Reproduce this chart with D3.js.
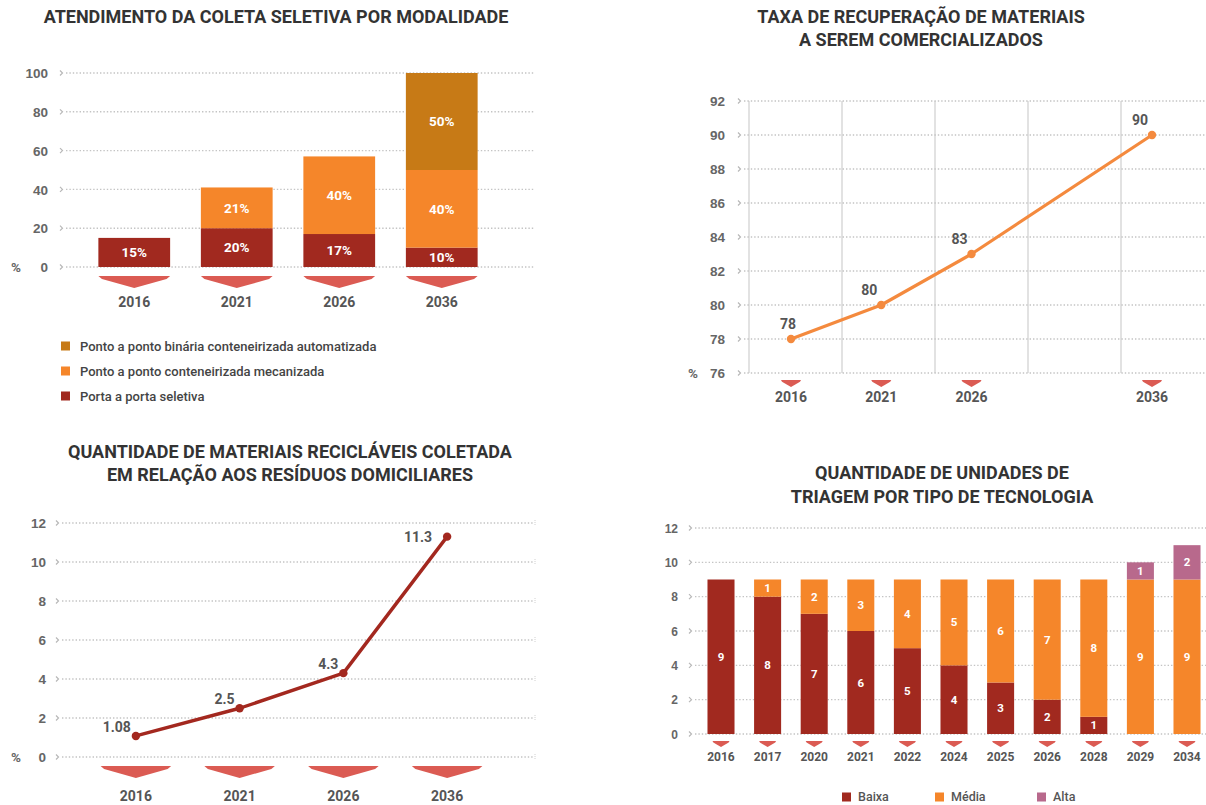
<!DOCTYPE html>
<html>
<head>
<meta charset="utf-8">
<script src="https://cdn.jsdelivr.net/npm/d3@7"></script>
<style>
  html, body { margin: 0; padding: 0; background: #fff; }
  svg { display: block; font-family: Roboto, "Noto Sans", sans-serif; }
  .title { font-weight: 700; font-size: 18px; fill: #333; text-anchor: middle; }
  .tick-label { font-weight: 700; font-size: 13.5px; fill: #666; }
  .year-label { font-weight: 700; font-size: 14px; fill: #555; text-anchor: middle; }
  .grid { stroke: #c4c4c4; stroke-width: 1.4; stroke-dasharray: 1.4 2; }
  .chev { fill: none; stroke: #b8b8b8; stroke-width: 1.2; }
</style>
</head>
<body>
<svg id="chart" width="1206" height="805"></svg>
<script>
// ---- Atendimento da coleta seletiva por modalidade ----
const modalYears = ["2016", "2021", "2026", "2036"];
const portaAPorta = [15, 20, 17, 10];
const pontoMecanizada = [0, 21, 40, 40];
const pontoAutomatizada = [0, 0, 0, 50];
const modalTicks = [0, 20, 40, 60, 80, 100];
const modalLegend = [
  "Ponto a ponto binária conteneirizada automatizada",
  "Ponto a ponto conteneirizada mecanizada",
  "Porta a porta seletiva"
];

// ---- Taxa de recuperação de materiais ----
const taxaYears = [2016, 2021, 2026, 2036];
const taxaValues = [78, 80, 83, 90];
const taxaTicks = [76, 78, 80, 82, 84, 86, 88, 90, 92];

// ---- Quantidade de materiais recicláveis coletada ----
const qtdYears = ["2016", "2021", "2026", "2036"];
const qtdValues = [1.08, 2.5, 4.3, 11.3];
const qtdTicks = [0, 2, 4, 6, 8, 10, 12];

// ---- Unidades de triagem por tipo de tecnologia ----
const triagemYears = ["2016", "2017", "2020", "2021", "2022", "2024", "2025", "2026", "2028", "2029", "2034"];
const triagemBaixa = [9, 8, 7, 6, 5, 4, 3, 2, 1, 0, 0];
const triagemMedia = [0, 1, 2, 3, 4, 5, 6, 7, 8, 9, 9];
const triagemAlta  = [0, 0, 0, 0, 0, 0, 0, 0, 0, 1, 2];
const triagemTicks = [0, 2, 4, 6, 8, 10, 12];
const triagemLegend = ["Baixa", "Média", "Alta"];

const C = {
  porta: "#a1291f",
  mecanizada: "#f5862a",
  automatizada: "#c77a16",
  alta: "#b8698c",
  arrow: "#db5b53",
  taxaLine: "#f48a3e",
  qtdLine: "#a3281f"
};

const svg = d3.select("#chart");

// dotted horizontal grid with the little chevron at its start
function drawGrid(g, y, ticks, x0, x1, labelX, fontSize) {
  g.selectAll(".grid-line").data(ticks).join("line")
    .attr("class", "grid")
    .attr("x1", x0).attr("x2", x1)
    .attr("y1", d => y(d)).attr("y2", d => y(d));
  g.selectAll(".chev-mark").data(ticks).join("path")
    .attr("class", "chev")
    .attr("d", d => `M${x0 - 6},${y(d) - 2.5}L${x0 - 3.5},${y(d)}L${x0 - 6},${y(d) + 2.5}`);
  const axis = d3.axisLeft(y).tickValues(ticks).tickSize(0).tickPadding(0);
  const ag = g.append("g").attr("transform", `translate(${labelX},0)`).call(axis);
  ag.select(".domain").remove();
  ag.selectAll("text").attr("class", "tick-label").attr("x", 0)
    .style("font-size", fontSize + "px").attr("dy", "0.35em")
    .attr("text-anchor", "end").attr("fill", null);
}

// downward chevron marker under each category
function arrowPath(cx, w, top, h) {
  const band = h * 0.25;
  return `M${cx - w / 2},${top}L${cx + w / 2},${top}L${cx + w / 2 - w * 0.05},${top + band}L${cx},${top + h}L${cx - w / 2 + w * 0.05},${top + band}Z`;
}

function titleLines(lines, cx, y0, lh) {
  const t = svg.append("text").attr("class", "title");
  lines.forEach((l, i) => t.append("tspan").attr("x", cx).attr("y", y0 + i * lh).text(l));
}

// =============== Chart 1: stacked bars ===============
(function () {
  const g = svg.append("g");
  titleLines(["ATENDIMENTO DA COLETA SELETIVA POR MODALIDADE"], 276, 23, 0);
  const y = d3.scaleLinear().domain([0, 100]).range([267, 73]);
  const x = d3.scaleBand().domain(modalYears).range([83, 493]).paddingInner(0.3).paddingOuter(0.15);
  drawGrid(g, y, modalTicks, 66, 534, 48, 13.5);
  g.append("text").attr("x", 16).attr("y", y(0)).attr("dy", "0.35em")
    .attr("class", "tick-label").attr("text-anchor", "middle").text("%");

  const rows = modalYears.map((yr, i) => ({
    year: yr, porta: portaAPorta[i], mecanizada: pontoMecanizada[i], automatizada: pontoAutomatizada[i]
  }));
  const keys = ["porta", "mecanizada", "automatizada"];
  const stack = d3.stack().keys(keys)(rows);
  stack.forEach(layer => {
    const k = layer.key;
    g.append("g").selectAll("rect").data(layer.filter(d => d[1] > d[0])).join("rect")
      .attr("x", d => x(d.data.year)).attr("width", x.bandwidth())
      .attr("y", d => y(d[1])).attr("height", d => y(d[0]) - y(d[1]))
      .attr("fill", C[k]);
    g.append("g").selectAll("text").data(layer.filter(d => d[1] > d[0])).join("text")
      .attr("x", d => x(d.data.year) + x.bandwidth() / 2)
      .attr("y", d => (y(d[0]) + y(d[1])) / 2).attr("dy", "0.35em")
      .attr("text-anchor", "middle").attr("fill", "#fff")
      .style("font-weight", 700).style("font-size", "13.5px")
      .text(d => (d[1] - d[0]) + "%");
  });
  g.selectAll(".arr").data(modalYears).join("path")
    .attr("d", d => arrowPath(x(d) + x.bandwidth() / 2, x.bandwidth(), 276, 12))
    .attr("fill", C.arrow);
  g.selectAll(".yr").data(modalYears).join("text")
    .attr("class", "year-label").attr("x", d => x(d) + x.bandwidth() / 2).attr("y", 302)
    .attr("dy", "0.35em").text(d => d);

  const legColors = [C.automatizada, C.mecanizada, C.porta];
  const lg = g.append("g");
  modalLegend.forEach((name, i) => {
    const ly = 346 + i * 25;
    lg.append("rect").attr("x", 61).attr("y", ly - 4.5).attr("width", 9).attr("height", 9).attr("fill", legColors[i]);
    lg.append("text").attr("x", 80).attr("y", ly).attr("dy", "0.35em")
      .style("font-size", "13px").style("font-weight", 500).attr("fill", "#444").text(name);
  });
})();

// =============== Chart 2: taxa de recuperação ===============
(function () {
  const g = svg.append("g");
  titleLines(["TAXA DE RECUPERAÇÃO DE MATERIAIS", "A SEREM COMERCIALIZADOS"], 921, 23, 23);
  const y = d3.scaleLinear().domain([76, 92]).range([373, 101]);
  const x = d3.scaleLinear().domain([2016, 2036]).range([791, 1152]);
  const cols = d3.scaleLinear().domain([0, 4]).range([749, 1121]);
  g.selectAll(".vline").data(d3.range(5)).join("line")
    .attr("x1", d => cols(d)).attr("x2", d => cols(d))
    .attr("y1", y(92)).attr("y2", y(76))
    .attr("stroke", "#cfcfcf").attr("stroke-width", 1.2);
  drawGrid(g, y, taxaTicks, 744, 1206, 725, 13.5);
  g.append("text").attr("x", 693).attr("y", y(76)).attr("dy", "0.35em")
    .attr("class", "tick-label").attr("text-anchor", "middle").text("%");

  const pts = taxaYears.map((yr, i) => ({ yr, v: taxaValues[i] }));
  g.append("path").datum(pts)
    .attr("d", d3.line().x(d => x(d.yr)).y(d => y(d.v)))
    .attr("fill", "none").attr("stroke", C.taxaLine).attr("stroke-width", 3.2)
    .attr("stroke-linejoin", "round");
  g.selectAll(".pt").data(pts).join("circle")
    .attr("cx", d => x(d.yr)).attr("cy", d => y(d.v)).attr("r", 4.2).attr("fill", C.taxaLine);
  g.selectAll(".lbl").data(pts).join("text")
    .attr("x", (d, i) => x(d.yr) - (i === 0 ? 3 : 12)).attr("y", d => y(d.v) - 15).attr("dy", "0.35em")
    .attr("text-anchor", "middle").attr("fill", "#555")
    .style("font-weight", 700).style("font-size", "14px").text(d => d.v);
  g.selectAll(".arr").data(pts).join("path")
    .attr("d", d => arrowPath(x(d.yr), 20, 380, 7)).attr("fill", C.arrow);
  g.selectAll(".yr").data(pts).join("text")
    .attr("class", "year-label").attr("x", d => x(d.yr)).attr("y", 397)
    .attr("dy", "0.35em").text(d => d.yr);
})();

// =============== Chart 3: quantidade coletada ===============
(function () {
  const g = svg.append("g");
  titleLines(["QUANTIDADE DE MATERIAIS RECICLÁVEIS COLETADA", "EM RELAÇÃO AOS RESÍDUOS DOMICILIARES"], 290, 458, 23);
  const y = d3.scaleLinear().domain([0, 12]).range([757, 523]);
  const x = d3.scaleBand().domain(qtdYears).range([84, 499]).paddingInner(0.32).paddingOuter(0.16);
  drawGrid(g, y, qtdTicks, 62, 534, 46, 13.5);
  g.selectAll(".endmark").data(qtdTicks).join("line")
    .attr("x1", 535).attr("x2", 535).attr("y1", d => y(d) - 3).attr("y2", d => y(d) + 3)
    .attr("stroke", "#d0d0d0").attr("stroke-width", 1).attr("stroke-dasharray", "1 1");
  g.append("text").attr("x", 16).attr("y", y(0)).attr("dy", "0.35em")
    .attr("class", "tick-label").attr("text-anchor", "middle").text("%");

  const pts = qtdYears.map((yr, i) => ({ yr, v: qtdValues[i] }));
  const cx = d => x(d.yr) + x.bandwidth() / 2;
  const last = pts.length - 1;
  g.append("path").datum(pts)
    .attr("d", d3.line().x(cx).y(d => y(d.v)))
    .attr("fill", "none").attr("stroke", C.qtdLine).attr("stroke-width", 3.4)
    .attr("stroke-linejoin", "round");
  g.selectAll(".pt").data(pts).join("circle")
    .attr("cx", cx).attr("cy", d => y(d.v)).attr("r", 4.2).attr("fill", C.qtdLine);
  // the top value sits beside its point, the others just above-left
  g.selectAll(".lbl").data(pts).join("text")
    .attr("x", (d, i) => cx(d) - (i === last ? 15 : 5))
    .attr("y", (d, i) => y(d.v) - (i === last ? 0 : 9)).attr("dy", "0.35em")
    .attr("text-anchor", "end").attr("fill", "#555")
    .style("font-weight", 700).style("font-size", "14px").text(d => d.v);
  g.selectAll(".arr").data(qtdYears).join("path")
    .attr("d", d => arrowPath(x(d) + x.bandwidth() / 2, x.bandwidth(), 766, 12))
    .attr("fill", C.arrow);
  g.selectAll(".yr").data(qtdYears).join("text")
    .attr("class", "year-label").attr("x", d => x(d) + x.bandwidth() / 2).attr("y", 796)
    .attr("dy", "0.35em").text(d => d);
})();

// =============== Chart 4: unidades de triagem ===============
(function () {
  const g = svg.append("g");
  titleLines(["QUANTIDADE DE UNIDADES DE", "TRIAGEM POR TIPO DE TECNOLOGIA"], 942, 479, 24);
  const y = d3.scaleLinear().domain([0, 12]).range([734, 528]);
  const x = d3.scaleBand().domain(triagemYears).range([697.7, 1210.3]).paddingInner(0.42).paddingOuter(0.21);
  drawGrid(g, y, triagemTicks, 695, 1206, 678, 12);

  const rows = triagemYears.map((yr, i) => ({ year: yr, baixa: triagemBaixa[i], media: triagemMedia[i], alta: triagemAlta[i] }));
  const keys = ["baixa", "media", "alta"];
  const colors = { baixa: C.porta, media: C.mecanizada, alta: C.alta };
  const stack = d3.stack().keys(keys)(rows);
  stack.forEach(layer => {
    const segs = layer.filter(d => d[1] > d[0]);
    g.append("g").selectAll("rect").data(segs).join("rect")
      .attr("x", d => x(d.data.year)).attr("width", x.bandwidth())
      .attr("y", d => y(d[1])).attr("height", d => y(d[0]) - y(d[1]))
      .attr("fill", colors[layer.key]);
    g.append("g").selectAll("text").data(segs).join("text")
      .attr("x", d => x(d.data.year) + x.bandwidth() / 2)
      .attr("y", d => (y(d[0]) + y(d[1])) / 2).attr("dy", "0.35em")
      .attr("text-anchor", "middle").attr("fill", "#fff")
      .style("font-weight", 700).style("font-size", "11.5px")
      .text(d => d[1] - d[0]);
  });
  g.selectAll(".arr").data(triagemYears).join("path")
    .attr("d", d => arrowPath(x(d) + x.bandwidth() / 2, 17, 741, 6))
    .attr("fill", C.arrow);
  g.selectAll(".yr").data(triagemYears).join("text")
    .attr("class", "year-label").attr("x", d => x(d) + x.bandwidth() / 2).attr("y", 757)
    .attr("dy", "0.35em").style("font-size", "12px").text(d => d);

  const legX = [842, 935, 1037];
  const legC = [C.porta, C.mecanizada, C.alta];
  triagemLegend.forEach((name, i) => {
    g.append("rect").attr("x", legX[i]).attr("y", 797 - 4.5).attr("width", 9).attr("height", 9).attr("fill", legC[i]);
    g.append("text").attr("x", legX[i] + 16).attr("y", 797).attr("dy", "0.35em")
      .style("font-size", "12.5px").style("font-weight", 500).attr("fill", "#555").text(name);
  });
})();
</script>
</body>
</html>
